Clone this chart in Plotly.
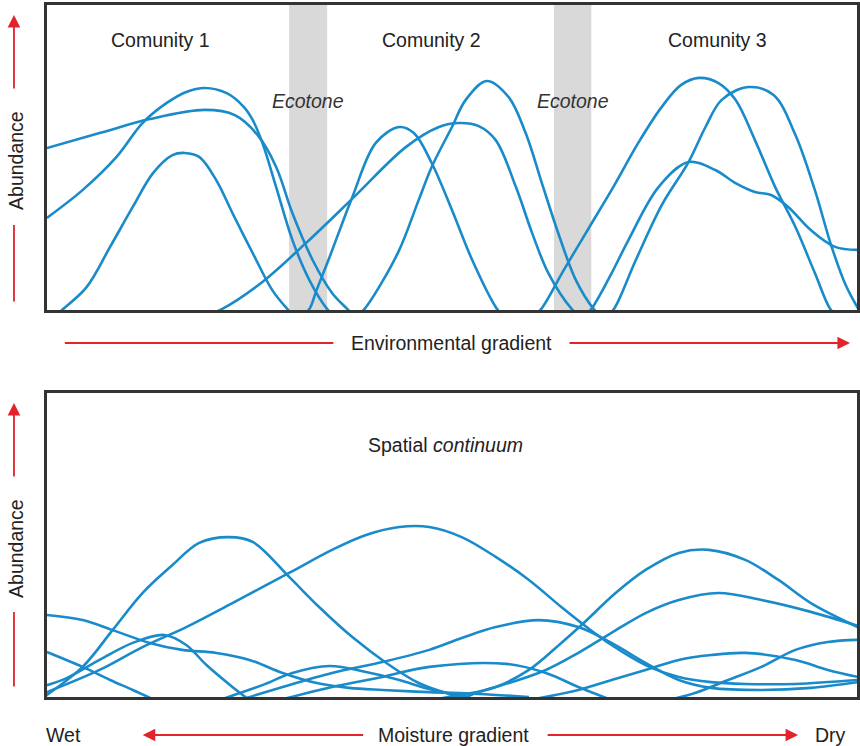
import plotly.graph_objects as go

# ---------------- Upper panel: discrete communities (gradient 0-100, abundance 0-100)
c1a_x = [0, 6.5, 12.7, 19.5, 23.2, 26.0, 28.3, 30.3, 32.8, 35.2, 37.1, 38.0]
c1a_y = [53.1, 58.0, 62.6, 65.6, 63.9, 57.4, 46.9, 31.8, 16.4, 5.6, 0.3, -2]

c1b_x = [0, 4.4, 8.6, 11.8, 14.8, 17.2, 19.5, 22.2, 24.3, 25.4, 26.6, 28.3, 30.3, 32.4, 34.6, 35.5]
c1b_y = [30.2, 39.3, 50.2, 61.3, 67.9, 71.5, 72.8, 71.1, 66.6, 62.3, 54.8, 40.3, 23.0, 9.8, 0.3, -2]

c1c_x = [1.0, 2.0, 4.9, 7.8, 10.6, 13.1, 15.5, 17.0, 18.8, 20.9, 22.9, 25.4, 27.8, 29.7, 30.6]
c1c_y = [-2, 0.3, 7.5, 20.7, 33.8, 44.9, 50.8, 51.5, 50.2, 42.6, 31.8, 18.7, 6.6, 0.3, -2]

c2a_x = [19.5, 21.6, 26.6, 32.0, 37.9, 44.3, 48.4, 50.9, 53.3, 55.4, 57.9, 59.9, 61.9, 64.8, 65.8]
c2a_y = [-2, 0.3, 9.2, 22.0, 37.0, 53.4, 60.0, 61.3, 60.3, 55.7, 40.3, 25.2, 12.1, 0.3, -2]

c2b_x = [31.5, 32.4, 33.3, 34.9, 37.7, 40.6, 43.5, 45.3, 47.5, 50.0, 52.5, 55.4, 56.3]
c2b_y = [-2, 0.3, 6.6, 17.4, 37.0, 54.8, 60.0, 58.0, 48.2, 32.8, 16.4, 1.0, -2]

c2c_x = [38.3, 39.2, 41.0, 43.5, 45.9, 47.5, 50.0, 51.7, 54.3, 57.0, 59.1, 61.1, 63.2, 65.3, 67.5, 68.4]
c2c_y = [-2, 0.3, 7.5, 19.7, 36.1, 46.9, 60.0, 68.9, 75.1, 69.8, 58.0, 41.6, 24.6, 9.8, 0.3, -2]

c3a_x = [60.0, 61.0, 63.8, 66.9, 70.0, 73.0, 75.9, 78.3, 80.5, 82.9, 85.0, 87.4, 89.9, 92.4, 94.8, 96.7, 97.6]
c3a_y = [-2, 0.3, 13.1, 26.9, 40.7, 54.8, 66.6, 73.8, 76.1, 74.4, 68.9, 55.7, 40.3, 27.2, 12.1, 0.3, -2]

c3b_x = [69.1, 70.0, 72.7, 75.9, 79.2, 81.3, 83.3, 86.6, 89.7, 92.4, 94.8, 96.8, 98.6, 100.4]
c3b_y = [-2, 0.3, 16.4, 34.4, 48.5, 60.0, 68.9, 73.1, 70.5, 57.4, 39.3, 21.3, 8.2, -0.7]

c3c_x = [66.3, 67.2, 69.6, 71.8, 75.5, 79.2, 82.5, 85.0, 87.4, 89.4, 91.5, 94.3, 97.3, 100.1]
c3c_y = [-2, 0.3, 11.5, 23.0, 40.3, 48.5, 45.9, 41.6, 38.7, 37.7, 33.8, 26.2, 20.7, 19.7]

community_x = [14.0, 47.5, 82.8]
community_labels = ["Comunity 1", "Comunity 2", "Comunity 3"]
ecotone_x0 = [29.9, 62.6]
ecotone_x1 = [34.6, 67.2]

# ---------------- Lower panel: continuum along a moisture gradient
s1_x = [-0.9, 4.4, 8.1, 11.8, 15.5, 18.8, 22.5, 25.4, 29.9, 33.6, 37.7, 41.9, 45.9, 49.6, 52.1]
s1_y = [-1.0, 9.9, 22.0, 34.2, 43.4, 50.7, 52.6, 51.0, 39.5, 29.6, 19.7, 11.2, 4.6, 1.0, -1.0]

s2_x = [0, 6.5, 11.8, 17.2, 22.9, 29.9, 35.2, 39.4, 43.5, 47.2, 51.2, 55.4, 59.5, 63.5, 66.0, 69.7, 73.9, 78.0, 82.0, 86.2, 92.4, 100.1]
s2_y = [1.6, 8.9, 16.4, 23.0, 30.9, 40.8, 48.4, 53.3, 55.9, 55.9, 52.6, 46.1, 38.5, 29.6, 24.3, 17.1, 10.5, 6.6, 4.9, 4.3, 4.3, 5.6]

s3_x = [47.2, 51.2, 55.4, 59.5, 63.5, 66.0, 70.2, 73.9, 78.0, 81.7, 86.2, 90.3, 94.3, 100.1]
s3_y = [-1.0, 0.7, 3.3, 8.9, 17.8, 23.7, 34.2, 41.8, 47.4, 48.4, 45.1, 38.5, 30.9, 23.0]

s4_x = [50.9, 53.3, 57.4, 61.6, 65.6, 69.7, 73.9, 78.0, 82.9, 88.2, 94.3, 100.1]
s4_y = [-1.0, 1.6, 4.9, 8.9, 14.5, 21.1, 27.6, 31.9, 34.2, 31.9, 28.0, 23.4]

s5_x = [0, 4.4, 8.1, 12.7, 16.7, 20.9, 25.0, 29.1, 33.3, 37.3, 41.4, 47.2, 53.3, 59.5]
s5_y = [27.0, 25.3, 22.0, 17.8, 15.5, 14.5, 12.2, 7.9, 4.6, 3.0, 2.3, 1.6, 1.0, 0]

s6_x = [0, 2.5, 6.5, 10.6, 14.5, 17.2, 19.7, 22.9, 25.0]
s6_y = [3.9, 6.3, 12.2, 17.8, 20.4, 17.1, 10.5, 3.3, -1.0]

s7_x = [0, 4.4, 7.8, 10.6, 13.3]
s7_y = [14.8, 9.9, 5.6, 2.3, -1.0]

s8_x = [21.3, 26.6, 30.3, 34.9, 39.4, 43.5, 47.2, 52.1]
s8_y = [-1.0, 3.9, 7.9, 10.2, 8.2, 5.6, 2.6, 0]

s9_x = [23.8, 29.1, 35.2, 41.4, 47.2, 51.2, 55.4, 60.7, 65.6, 69.7, 73.9, 78.0, 82.0, 88.2, 94.3, 100.1]
s9_y = [-1.0, 3.3, 7.9, 11.5, 15.5, 19.4, 23.0, 25.3, 23.0, 17.8, 11.2, 5.6, 3.0, 2.3, 3.0, 4.9]

s10_x = [76.7, 80.0, 84.1, 88.2, 92.4, 96.4, 100.1]
s10_y = [-1.0, 1.3, 5.6, 9.9, 15.5, 18.1, 18.8]

s11_x = [28.7, 35.2, 41.4, 47.2, 56.7, 61.6, 65.6, 69.7]
s11_y = [-1.0, 3.3, 6.6, 9.9, 10.9, 7.9, 3.3, -1.0]

s12_x = [59.5, 65.6, 69.7, 73.9, 78.0, 82.0, 86.2, 92.4, 96.4, 100.1]
s12_y = [-1.0, 2.3, 5.6, 8.9, 12.2, 13.8, 14.5, 12.2, 8.9, 6.6]

upper_species = [(c1a_x, c1a_y), (c1b_x, c1b_y), (c1c_x, c1c_y),
                 (c2a_x, c2a_y), (c2b_x, c2b_y), (c2c_x, c2c_y),
                 (c3a_x, c3a_y), (c3b_x, c3b_y), (c3c_x, c3c_y)]
lower_species = [(s1_x, s1_y), (s2_x, s2_y), (s3_x, s3_y), (s4_x, s4_y),
                 (s5_x, s5_y), (s6_x, s6_y), (s7_x, s7_y), (s8_x, s8_y),
                 (s9_x, s9_y), (s10_x, s10_y), (s11_x, s11_y), (s12_x, s12_y)]

W, H = 860, 746
CURVE = "#1a8bca"
FRAME = "#333333"
RED = "#e3232b"
TEXT = "#222222"
FONT = "Liberation Sans, Arial, sans-serif"
FS = 19.5


def px(x):
    return x / W


def py(y):
    return 1 - y / H


fig = go.Figure()

for xs, ys in upper_species:
    fig.add_trace(go.Scatter(x=xs, y=ys, mode="lines", xaxis="x", yaxis="y",
                             line=dict(color=CURVE, width=2.6, shape="spline", smoothing=1.0),
                             hoverinfo="skip", showlegend=False))
for xs, ys in lower_species:
    fig.add_trace(go.Scatter(x=xs, y=ys, mode="lines", xaxis="x2", yaxis="y2",
                             line=dict(color=CURVE, width=2.6, shape="spline", smoothing=1.0),
                             hoverinfo="skip", showlegend=False))

axis_common = dict(range=[0, 100], showgrid=False, zeroline=False, showticklabels=False,
                   ticks="", showline=True, mirror=True, linecolor=FRAME, linewidth=2.6,
                   fixedrange=True)

fig.update_layout(
    width=W, height=H,
    margin=dict(l=0, r=0, t=0, b=0),
    paper_bgcolor="white", plot_bgcolor="white",
    font=dict(family=FONT, size=FS, color=TEXT),
    xaxis=dict(domain=[px(47), px(859)], anchor="y", **axis_common),
    yaxis=dict(domain=[py(310), py(5)], anchor="x", **axis_common),
    xaxis2=dict(domain=[px(47), px(859)], anchor="y2", **axis_common),
    yaxis2=dict(domain=[py(697), py(393)], anchor="x2", **axis_common),
)

# ecotone bands
for a, b in zip(ecotone_x0, ecotone_x1):
    fig.add_shape(type="rect", xref="x", yref="y domain", x0=a, x1=b, y0=0, y1=1,
                  fillcolor="#d9d9d9", line=dict(width=0), layer="below")
    fig.add_annotation(x=(a + b) / 2, y=68.5, xref="x", yref="y", text="<i>Ecotone</i>",
                       showarrow=False, xanchor="center", yanchor="middle",
                       font=dict(size=FS, color="#333333"))

for cx, lab in zip(community_x, community_labels):
    fig.add_annotation(x=cx, y=88.5, xref="x", yref="y", text=lab, showarrow=False,
                       xanchor="center", yanchor="middle", font=dict(size=FS, color=TEXT))


def arrow(x_tip, y_tip, x_tail, y_tail, head=True):
    fig.add_annotation(x=px(x_tip), y=py(y_tip), xref="paper", yref="paper",
                       ax=x_tail - x_tip, ay=y_tail - y_tip, axref="pixel", ayref="pixel",
                       text="", showarrow=True, arrowhead=2 if head else 0,
                       arrowsize=1.4, arrowwidth=1.8, arrowcolor=RED, standoff=0,
                       startstandoff=0)


def label(x, y, text, angle=0):
    fig.add_annotation(x=px(x), y=py(y), xref="paper", yref="paper", text=text,
                       showarrow=False, textangle=angle, xanchor="center", yanchor="middle",
                       font=dict(size=FS, color=TEXT))


label(447, 445, "Spatial <i>continuum</i>")

# vertical abundance arrows
for tip, tail, lo0, lo1, mid in [(15, 90, 225, 303, 160), (403, 478, 612, 688, 548)]:
    arrow(14, tip, 14, tail)
    arrow(14, lo0, 14, lo1, head=False)
    label(16, mid, "Abundance", angle=-90)

# environmental gradient
arrow(65, 343, 335, 343, head=False)
arrow(852, 343, 570, 343)
label(453, 343, "Environmental gradient")

# moisture gradient
arrow(143, 735, 365, 735)
arrow(800, 735, 548, 735)
label(455, 735, "Moisture gradient")
label(64, 735, "Wet")
label(832, 735, "Dry")

fig.write_html("out.html")
